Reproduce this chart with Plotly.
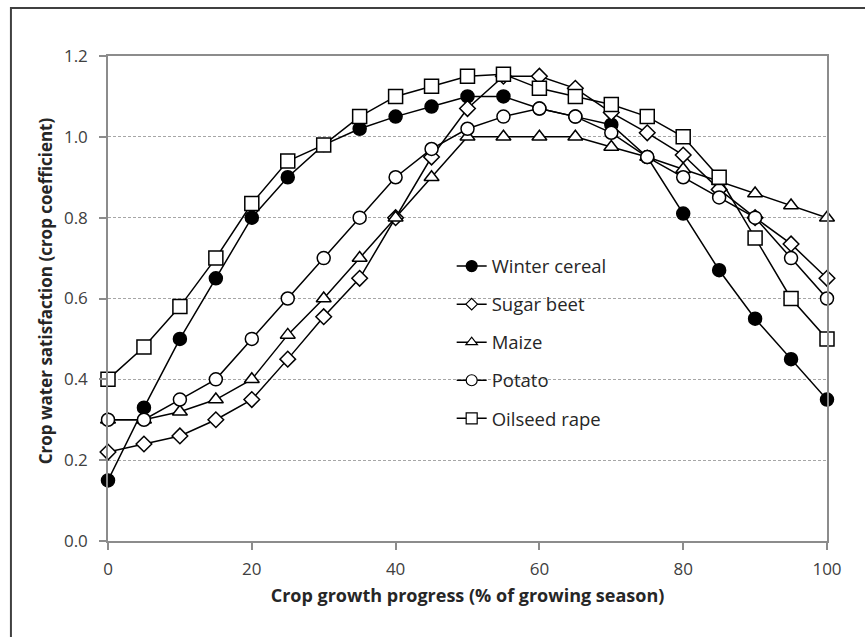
import plotly.graph_objects as go

progress = [0, 5, 10, 15, 20, 25, 30, 35, 40, 45, 50, 55, 60, 65, 70, 75, 80, 85, 90, 95, 100]

winter_cereal = [0.15, 0.33, 0.50, 0.65, 0.80, 0.90, 0.98, 1.02, 1.05, 1.075, 1.10, 1.10, 1.07, 1.05, 1.03, 0.95, 0.81, 0.67, 0.55, 0.45, 0.35]
sugar_beet = [0.22, 0.24, 0.26, 0.30, 0.35, 0.45, 0.555, 0.65, 0.80, 0.95, 1.07, 1.15, 1.15, 1.12, 1.06, 1.01, 0.955, 0.87, 0.80, 0.735, 0.65]
maize = [0.30, 0.30, 0.32, 0.35, 0.40, 0.51, 0.60, 0.70, 0.80, 0.90, 1.00, 1.00, 1.00, 1.00, 0.975, 0.95, 0.92, 0.89, 0.86, 0.83, 0.80]
potato = [0.30, 0.30, 0.35, 0.40, 0.50, 0.60, 0.70, 0.80, 0.90, 0.97, 1.02, 1.05, 1.07, 1.05, 1.01, 0.95, 0.90, 0.85, 0.80, 0.70, 0.60]
oilseed_rape = [0.40, 0.48, 0.58, 0.70, 0.835, 0.94, 0.98, 1.05, 1.10, 1.125, 1.15, 1.155, 1.12, 1.10, 1.08, 1.05, 1.00, 0.90, 0.75, 0.60, 0.50]

names = ["Winter cereal", "Sugar beet", "Maize", "Potato", "Oilseed rape"]
series = [winter_cereal, sugar_beet, maize, potato, oilseed_rape]
symbols = ["circle", "diamond", "triangle-up", "circle", "square"]
fills = ["black", "white", "white", "white", "white"]
sizes = [13, 12, 13, 13, 14]
legend_sizes = [11, 9, 10, 11, 11]

y_title = "<b>Crop water satisfaction (crop coefficient)</b>"
x_title = "<b>Crop growth progress (% of growing season)</b>"

FONT = "Open Sans, sans-serif"

fig = go.Figure()
for i, (nm, ys) in enumerate(zip(names, series)):
    fig.add_trace(go.Scatter(
        x=progress, y=ys, name=nm, mode="lines+markers",
        legendgroup=f"g{i}", showlegend=False,
        line=dict(color="black", width=1.5),
        marker=dict(symbol=symbols[i], size=sizes[i], color=fills[i],
                    line=dict(color="black", width=1.5)),
        cliponaxis=False,
    ))
for i, nm in enumerate(names):
    fig.add_trace(go.Scatter(
        x=[None], y=[None], name=nm, mode="lines+markers",
        legendgroup=f"g{i}", showlegend=True,
        line=dict(color="black", width=1.5),
        marker=dict(symbol=symbols[i], size=legend_sizes[i], color=fills[i],
                    line=dict(color="black", width=1.2)),
    ))

fig.update_layout(
    width=865, height=637,
    margin=dict(l=108, r=38, t=56, b=96),
    paper_bgcolor="white", plot_bgcolor="white",
    font=dict(family=FONT, size=14, color="#404040"),
    showlegend=True,
    legend=dict(x=0.478, y=0.605, xanchor="left", yanchor="top",
                bgcolor="rgba(0,0,0,0)", borderwidth=0,
                font=dict(family=FONT, size=18.5, color="#262626"),
                tracegroupgap=11, itemsizing="trace"),
    xaxis=dict(range=[0, 100], tickvals=[0, 20, 40, 60, 80, 100],
               showgrid=False, zeroline=False,
               showline=True, mirror=True, linecolor="#8c8c8c", linewidth=1.5,
               ticks="outside", ticklen=7, tickcolor="#8c8c8c", tickwidth=1.5,
               ticklabelstandoff=5,
               tickfont=dict(family=FONT, size=17, color="#404040"),
               title=dict(text=x_title,
                          font=dict(family=FONT, size=18, color="#262626"), standoff=10)),
    yaxis=dict(range=[0, 1.2], tickvals=[0, 0.2, 0.4, 0.6, 0.8, 1.0, 1.2],
               ticktext=["0.0", "0.2", "0.4", "0.6", "0.8", "1.0", "1.2"],
               showgrid=True, gridcolor="#a6a6a6", gridwidth=1, griddash="3px,2px",
               zeroline=False,
               showline=True, mirror=True, linecolor="#8c8c8c", linewidth=1.5,
               ticks="outside", ticklen=7, tickcolor="#8c8c8c", tickwidth=1.5,
               ticklabelstandoff=8,
               tickfont=dict(family=FONT, size=17, color="#404040")),
    annotations=[dict(text=y_title, xref="paper", yref="paper",
                      x=-0.0876, y=0.515, xanchor="center", yanchor="middle",
                      textangle=-90, showarrow=False,
                      font=dict(family=FONT, size=17, color="#262626"))],
    shapes=[dict(type="rect", xref="paper", yref="paper",
                 x0=-0.135, x1=1.1, y0=-0.25, y1=1.099,
                 line=dict(color="#404040", width=2), fillcolor="rgba(0,0,0,0)",
                 layer="below")],
)

fig.write_html("out.html")
